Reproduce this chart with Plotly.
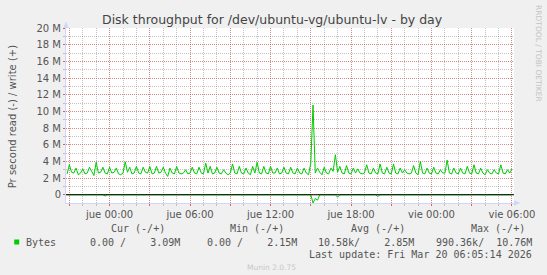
import plotly.graph_objects as go
import pandas as pd

# ---------------- data ----------------
title_text = "Disk throughput for /dev/ubuntu-vg/ubuntu-lv - by day"
y_title = "Pr second read (-) / write (+)"

sample_start = "2026-03-18 20:50"
sample_step = "10min"

# write (+) throughput, in M per second, one value every 10 minutes
write_m = [
    2.5, 3.6, 2.7, 2.6, 3.2, 2.4, 2.6, 3.1, 2.5, 2.6,
    3.3, 2.7, 2.3, 3.9, 2.6, 2.7, 3.3, 2.6, 2.5, 3.3,
    2.6, 2.7, 3.2, 2.5, 2.4, 2.6, 3.95, 2.7, 3.3, 2.5,
    2.6, 3.4, 2.6, 2.5, 3.3, 2.7, 2.6, 3.4, 2.5, 2.6,
    3.4, 2.6, 2.7, 3.3, 2.6, 2.2, 3.2, 2.6, 2.5, 3.4,
    2.6, 2.5, 2.6, 3.0, 2.5, 2.6, 3.3, 2.6, 2.5, 3.3,
    2.6, 2.5, 3.8, 2.6, 3.4, 2.5, 2.6, 3.3, 2.6, 2.5,
    3.0, 2.6, 2.4, 2.6, 3.7, 2.6, 2.5, 3.4, 2.6, 2.5,
    3.2, 2.6, 2.4, 3.4, 2.6, 3.9, 2.6, 2.5, 3.4, 2.6,
    2.5, 3.4, 2.6, 2.6, 3.2, 2.5, 2.6, 3.3, 2.6, 2.5,
    3.3, 2.6, 2.5, 3.2, 2.6, 2.5, 3.2, 2.6, 2.4, 3.8,
    10.76, 2.6, 3.2, 2.7, 2.4, 3.3, 2.6, 2.5, 3.2, 2.8,
    4.8, 2.7, 3.4, 2.6, 2.5, 3.5, 2.6, 2.5, 3.2, 2.6,
    3.1, 2.6, 2.5, 2.6, 3.6, 2.6, 2.5, 3.2, 2.6, 2.5,
    3.7, 2.6, 2.5, 3.3, 2.6, 2.5, 3.7, 2.6, 2.5, 3.2,
    2.6, 3.0, 2.6, 2.5, 2.6, 3.5, 2.6, 2.4, 4.0, 2.6,
    2.5, 3.2, 2.6, 2.5, 3.3, 2.6, 2.5, 3.0, 2.6, 2.6,
    4.15, 2.6, 2.5, 3.2, 2.6, 2.5, 3.2, 2.6, 2.5, 3.4,
    2.6, 2.5, 3.6, 2.6, 2.5, 3.2, 2.6, 2.4, 3.0, 2.6,
    2.5, 3.0, 2.6, 2.5, 3.6, 2.6, 2.5, 3.0, 2.6, 3.09,
]

# read (-) throughput, in M per second (drawn below zero)
read_m = [
    0, 0, 0, 0, 0, 0, 0, 0, 0, 0,
    0, 0, 0, 0, 0, 0, 0, 0.15, 0, 0,
    0, 0, 0, 0, 0, 0, 0, 0, 0, 0,
    0, 0, 0, 0, 0, 0, 0, 0, 0, 0,
    0, 0, 0, 0, 0, 0, 0, 0, 0, 0,
    0, 0, 0, 0, 0, 0, 0, 0, 0, 0,
    0, 0, 0, 0, 0, 0, 0, 0, 0, 0,
    0, 0, 0, 0, 0, 0, 0, 0, 0, 0,
    0, 0, 0, 0, 0, 0, 0, 0, 0, 0,
    0, 0, 0, 0, 0, 0, 0, 0, 0, 0,
    0, 0, 0, 0, 0, 0, 0, 0, 0, 0,
    0.99, 0.45, 0.65, 0, 0, 0, 0, 0, 0, 0,
    0, 0.3, 0, 0, 0, 0, 0, 0, 0, 0,
    0, 0, 0, 0, 0, 0, 0, 0, 0, 0.2,
    0, 0, 0, 0, 0, 0, 0, 0, 0, 0,
    0, 0, 0, 0, 0, 0, 0, 0, 0, 0,
    0, 0, 0, 0, 0, 0, 0, 0, 0, 0,
    0, 0, 0, 0, 0, 0, 0, 0, 0, 0,
    0, 0, 0, 0, 0, 0, 0, 0, 0, 0,
    0, 0, 0, 0, 0, 0, 0, 0, 0, 0,
]

y_tick_vals = [0, 2, 4, 6, 8, 10, 12, 14, 16, 18, 20]
y_tick_text = ["0", "2 M", "4 M", "6 M", "8 M", "10 M", "12 M", "14 M", "16 M", "18 M", "20 M"]

x_tick_times = [
    "2026-03-18 21:00", "2026-03-19 00:00", "2026-03-19 03:00", "2026-03-19 06:00",
    "2026-03-19 09:00", "2026-03-19 12:00", "2026-03-19 15:00", "2026-03-19 18:00",
    "2026-03-19 21:00", "2026-03-20 00:00", "2026-03-20 03:00", "2026-03-20 06:00",
]
x_tick_text = ["", "jue 00:00", "", "jue 06:00", "", "jue 12:00", "", "jue 18:00",
               "", "vie 00:00", "", "vie 06:00"]

series_name = "Bytes"
legend_headers = ["Cur (-/+)", "Min (-/+)", "Avg (-/+)", "Max (-/+)"]
legend_values = ["0.00 /    3.09M", "0.00 /    2.15M", "10.58k/    2.85M", "990.36k/  10.76M"]
last_update = "Last update: Fri Mar 20 06:05:14 2026"
footer_text = "Munin 2.0.75"
side_text = "RRDTOOL / TOBI OETIKER"

# ---------------- layout geometry ----------------
W, H = 547, 275
L, R, T, B = 66, 31, 28, 72
PW, PH = W - L - R, H - T - B

def px(x):
    return (x - L) / PW

def py(y):
    return (H - B - y) / PH

GREEN = "#00CC00"
FONT_C = "#555555"
AXIS_C = "#CFD6F8"
SANS = "DejaVu Sans"
MONO = "DejaVu Sans Mono"
MAJOR_GRID = "rgba(255,0,0,0.28)"
MINOR_GRID = "rgba(110,110,110,0.42)"

times = pd.date_range(sample_start, periods=len(write_m), freq=sample_step)

fig = go.Figure()
fig.add_trace(go.Scatter(x=times, y=[-v for v in read_m], mode="lines",
                         line=dict(color=GREEN, width=1), showlegend=False, hoverinfo="skip"))
fig.add_trace(go.Scatter(x=times, y=write_m, mode="lines",
                         line=dict(color=GREEN, width=1), showlegend=False, hoverinfo="skip"))

fig.update_layout(
    width=W, height=H,
    margin=dict(l=L, r=R, t=T, b=B, pad=0),
    paper_bgcolor="#F0F0F0",
    plot_bgcolor="#FFFFFF",
    showlegend=False,
    font=dict(family=SANS, size=10, color=FONT_C),
)

fig.update_xaxes(
    type="date",
    range=["2026-03-18 20:45", "2026-03-20 06:09"],
    tickmode="array", tickvals=x_tick_times, ticktext=x_tick_text,
    showgrid=True, gridcolor=MAJOR_GRID, griddash="1px,1px", gridwidth=1,
    ticks="outside", ticklen=2, tickcolor="rgba(255,0,0,0.5)",
    showline=True, linecolor=AXIS_C, linewidth=1,
    zeroline=False,
    tickfont=dict(family=SANS, size=10, color=FONT_C),
    minor=dict(tickmode="linear", tick0="2026-03-18 21:00", dtick=3600000,
               showgrid=True, gridcolor=MINOR_GRID, griddash="1px,1px",
               ticks="outside", ticklen=2, tickcolor="rgba(140,140,140,0.5)"),
    fixedrange=True,
)

fig.update_yaxes(
    range=[-0.99, 20],
    tickmode="array", tickvals=y_tick_vals, ticktext=y_tick_text,
    showgrid=True, gridcolor=MAJOR_GRID, griddash="1px,1px", gridwidth=1,
    ticks="outside", ticklen=2, tickcolor="rgba(255,0,0,0.5)",
    showline=True, linecolor=AXIS_C, linewidth=1,
    zeroline=False,
    tickfont=dict(family=SANS, size=10, color=FONT_C),
    minor=dict(tickmode="linear", tick0=0, dtick=1,
               showgrid=True, gridcolor=MINOR_GRID, griddash="1px,1px",
               ticks="outside", ticklen=2, tickcolor="rgba(140,140,140,0.5)"),
    fixedrange=True,
)

shapes = []
# black zero line, drawn over the read line
shapes.append(dict(type="line", xref="paper", yref="y", x0=0, x1=1, y0=0, y1=0,
                   line=dict(color="#000000", width=1.2), layer="above"))
# axis arrow heads
shapes.append(dict(type="path", xref="paper", yref="paper",
                   path=f"M {px(66)},{py(21.5)} L {px(63.3)},{py(28)} L {px(68.7)},{py(28)} Z",
                   fillcolor=AXIS_C, line=dict(width=0), layer="above"))
shapes.append(dict(type="path", xref="paper", yref="paper",
                   path=f"M {px(522.5)},{py(203)} L {px(516)},{py(200.3)} L {px(516)},{py(205.7)} Z",
                   fillcolor=AXIS_C, line=dict(width=0), layer="above"))
# legend colour square
shapes.append(dict(type="rect", xref="paper", yref="paper",
                   x0=px(14), x1=px(19), y0=py(244.5), y1=py(239.5),
                   fillcolor=GREEN, line=dict(width=0)))
fig.update_layout(shapes=shapes)

def ann(text, x, y, size=10, family=SANS, color=FONT_C, xanchor="center", yanchor="middle", angle=0):
    return dict(text=text, x=px(x), y=py(y), xref="paper", yref="paper",
                showarrow=False, xanchor=xanchor, yanchor=yanchor, textangle=angle,
                font=dict(family=family, size=size, color=color),
                borderpad=0, borderwidth=0)

annotations = [
    ann(title_text, 273.8, 20, size=12.5, color="#444444"),
    ann(y_title, 12, 117, size=10, angle=-90),
    ann(side_text, 540.5, 5, size=7.5, color="#C4C4C4", yanchor="top", angle=90),
    ann(series_name, 25.5, 242, family=MONO, xanchor="left"),
    ann(last_update, 533.8, 254.5, family=MONO, xanchor="right"),
    ann(footer_text, 272.8, 267, size=7.5, color="#C8C8C8"),
]
header_right = [165.2, 285.4, 406.4, 527.1]
value_right = [180.2, 297.8, 415.6, 533.6]
for h, xr in zip(legend_headers, header_right):
    annotations.append(ann(h, xr, 228.5, family=MONO, xanchor="right"))
for v, xr in zip(legend_values, value_right):
    annotations.append(ann(v, xr, 242, family=MONO, xanchor="right"))
fig.update_layout(annotations=annotations)

fig.write_html("out.html", config={"displayModeBar": False})
